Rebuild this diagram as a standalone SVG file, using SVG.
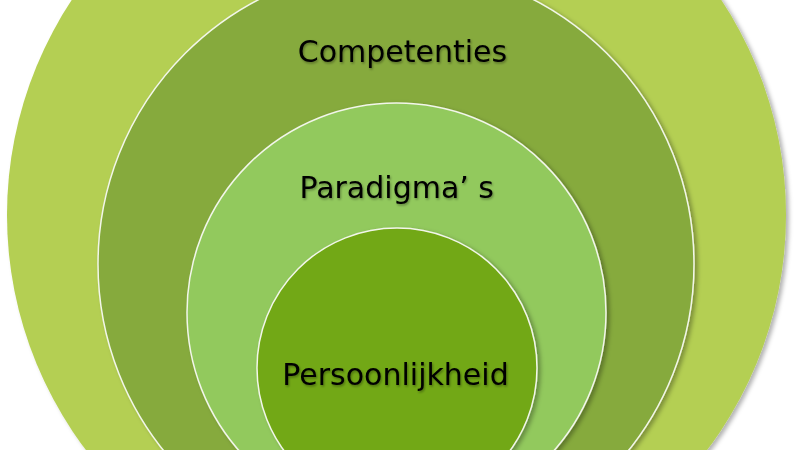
<svg xmlns="http://www.w3.org/2000/svg" width="800" height="450" viewBox="0 0 800 450">
  <defs>
    <filter id="shadow" x="-10%" y="-10%" width="120%" height="120%">
      <feDropShadow dx="3" dy="2" stdDeviation="2" flood-color="#000" flood-opacity="0.3"/>
    </filter>
    <filter id="tshadow" x="-5%" y="-20%" width="110%" height="140%">
      <feDropShadow dx="1" dy="1.5" stdDeviation="1.2" flood-color="#000" flood-opacity="0.35"/>
    </filter>
  </defs>
  <style>
    .ring { stroke: #f2f6ea; stroke-width: 1.5; }
    .label { font-family: "DejaVu Sans", Verdana, sans-serif; font-size: 30px; fill: #000; text-anchor: middle; filter: url(#tshadow); }
  </style>
  <rect width="800" height="450" fill="#ffffff"/>
  <g id="outer">
    <circle cx="396.5" cy="215" r="389.5" fill="#b4cf52" filter="url(#shadow)"/>
  </g>
  <g id="competenties">
    <circle class="ring" cx="396" cy="264" r="298" fill="#86aa3c" filter="url(#shadow)"/>
    <text class="label" x="402.5" y="62">Competenties</text>
  </g>
  <g id="paradigmas">
    <circle class="ring" cx="396.5" cy="312.5" r="209.5" fill="#92c95d" filter="url(#shadow)"/>
    <text class="label" x="396.7" y="198">Paradigma’ s</text>
  </g>
  <g id="persoonlijkheid">
    <circle class="ring" cx="397" cy="368" r="140" fill="#72a812" filter="url(#shadow)"/>
    <text class="label" x="395.5" y="385">Persoonlijkheid</text>
  </g>
  <g id="connectors"/>
</svg>
